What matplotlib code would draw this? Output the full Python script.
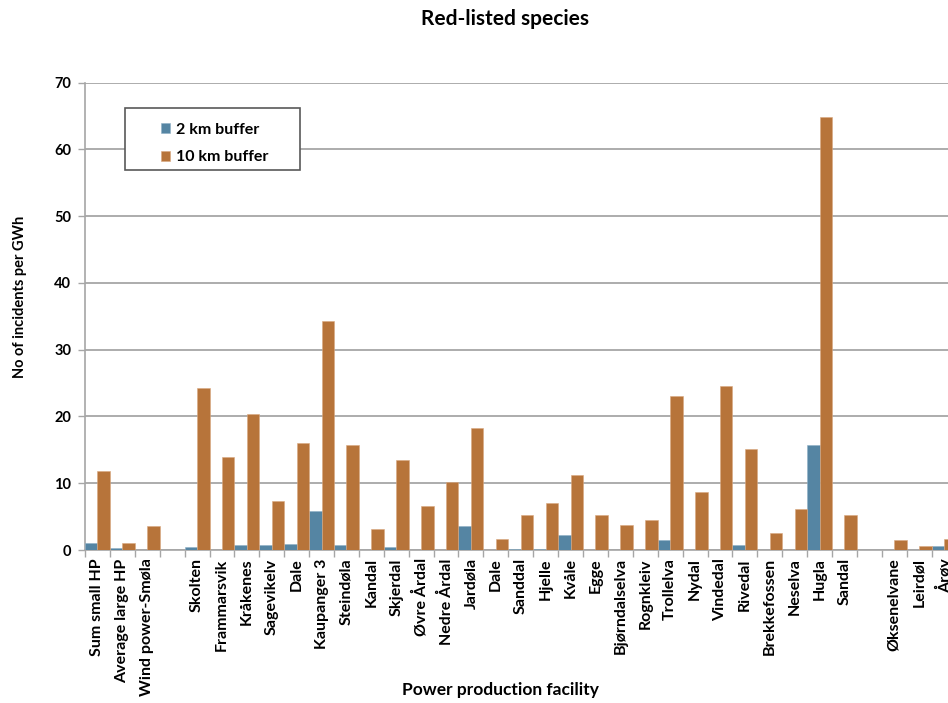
import numpy as np
import matplotlib
matplotlib.use("Agg")
import matplotlib.pyplot as plt
from matplotlib.patches import Rectangle

plt.rcParams['font.family'] = ['Lato', 'DejaVu Sans']
plt.rcParams['font.weight'] = 'bold'

facilities = ['Sum small HP', 'Average large HP', 'Wind power-Smøla', '',
              'Skolten', 'Frammarsvik', 'Kråkenes', 'Sagevikelv', 'Dale',
              'Kaupanger 3', 'Steindøla', 'Kandal', 'Skjerdal', 'Øvre Årdal',
              'Nedre Årdal', 'Jardøla', 'Dale', 'Sanddal', 'Hjelle', 'Kvåle',
              'Egge', 'Bjørndalselva', 'Rognkleiv', 'Trollelva', 'Nydal',
              'Vindedal', 'Rivedal', 'Brekkefossen', 'Neselva', 'Hugla',
              'Sandal', '', 'Øksenelvane', 'Leirdøl', 'Årøy']

buf2 = [1.0, 0.35, 0, np.nan,
        0.5, 0, 0.7, 0.7, 0.85,
        5.9, 0.7, 0, 0.5, 0,
        0, 3.6, 0, 0.2, 0.2, 2.2,
        0, 0, 0, 1.45, 0,
        0, 0.7, 0, 0, 15.8,
        0, np.nan, 0, 0, 0.65]

buf10 = [11.8, 1.1, 3.6, np.nan,
         24.2, 14.0, 20.3, 7.3, 16.0,
         34.3, 15.8, 3.1, 13.5, 6.6,
         10.25, 18.3, 1.7, 5.2, 7.0, 11.2,
         5.3, 3.8, 4.5, 23.1, 8.7,
         24.5, 15.1, 2.5, 6.2, 64.8,
         5.2, np.nan, 1.45, 0.65, 1.6]

blue = '#5585A3'
orange = '#B7743A'
grey = '#A6A6A6'

fig = plt.figure(figsize=(9.48, 7.03), dpi=100)
# plot area runs past the right edge, as in the original
ax = fig.add_axes([85/948, 153/703, (956.5-85)/948, (550-82.7)/703])

x = np.arange(len(facilities))
ax.bar(x - 0.25, buf2, width=0.5, color=blue, edgecolor='#8FB0C6', linewidth=0.4,
       label='2 km buffer', zorder=3)
ax.bar(x + 0.25, buf10, width=0.5, color=orange, edgecolor='#D9A880', linewidth=0.4,
       label='10 km buffer', zorder=3)

ax.set_xlim(-0.5, len(facilities) - 0.5)
ax.set_ylim(0, 70)
ax.set_yticks(np.arange(0, 71, 10))
ax.yaxis.grid(True, color=grey, linewidth=1.3, zorder=0)

ax.set_xticks(x)
ax.set_xticklabels(facilities, rotation=90, fontsize=11.5, fontweight='bold')
ax.set_xticks(np.arange(-0.5, len(facilities)), minor=True)
ax.tick_params(axis='x', which='major', length=0, pad=6)
ax.tick_params(axis='x', which='minor', length=5, color=grey, width=1)
ax.tick_params(axis='y', length=5, color=grey, width=1, labelsize=10.5, pad=5)
for lab in ax.get_yticklabels():
    lab.set_fontweight('bold')

for side in ['top', 'right']:
    ax.spines[side].set_visible(False)
ax.spines['left'].set_color(grey)
ax.spines['bottom'].set_color(grey)
ax.spines['left'].set_linewidth(1.2)
ax.spines['bottom'].set_linewidth(1.2)

fig.text(505/948, 1 - 19/703, 'Red-listed species', ha='center', va='center',
         fontsize=15, fontweight='bold')
fig.text(500/948, 1 - 690/703, 'Power production facility', ha='center', va='center',
         fontsize=12.5, fontweight='bold')
fig.text(20/948, 1 - 297/703, 'No of incidents per GWh', ha='center', va='center',
         rotation=90, fontsize=10.5, fontweight='bold')

# legend box
fig.patches.append(Rectangle((125/948, 1 - 170/703), 175/948, 62/703,
                             transform=fig.transFigure, facecolor='white',
                             edgecolor='#595959', linewidth=1.2, zorder=5))
leg = fig.legend(loc='upper left', bbox_to_anchor=(148/948, 1 - 110/703),
                 frameon=False, fontsize=11.5, handlelength=0.6, handleheight=0.6,
                 handletextpad=0.35, labelspacing=0.85, borderpad=0.3)
leg.set_zorder(6)
for t in leg.get_texts():
    t.set_fontweight('bold')

fig.savefig('out.png', dpi=100)
